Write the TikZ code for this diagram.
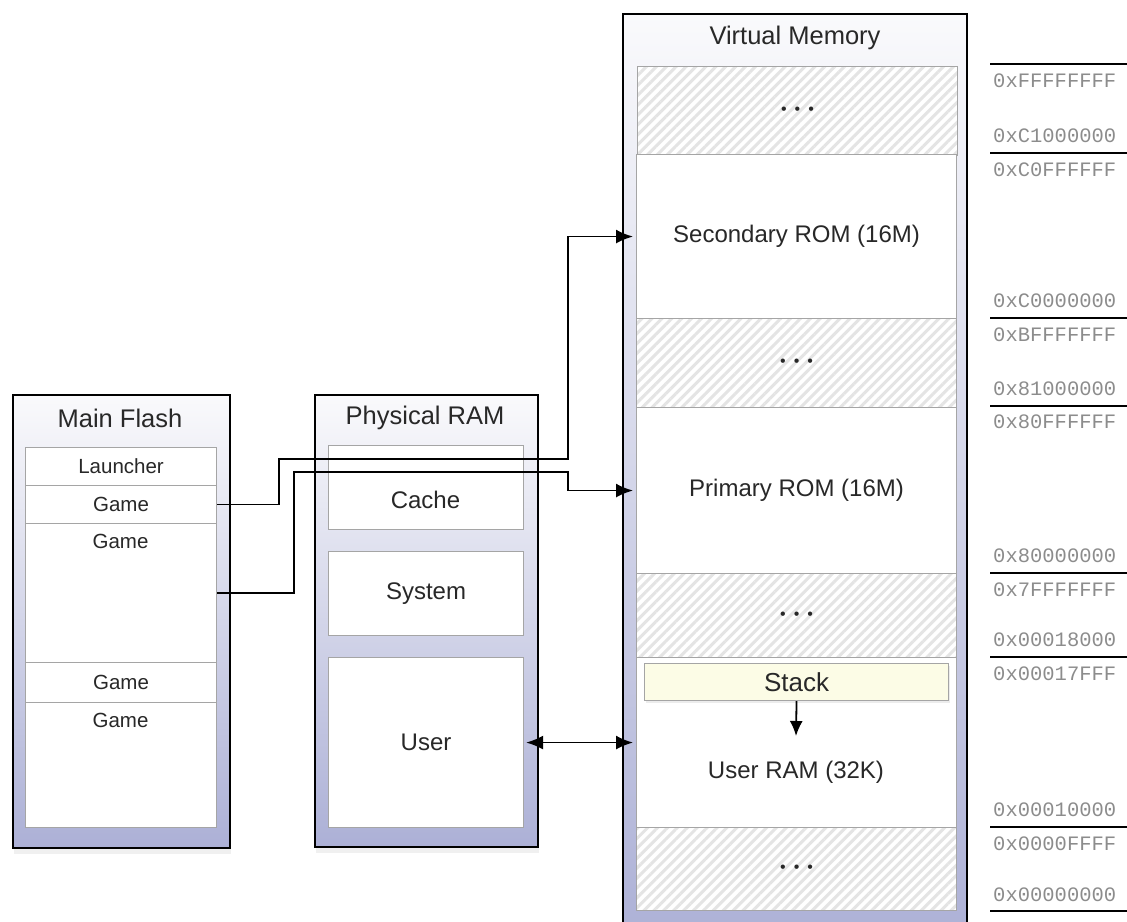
\documentclass[tikz,border=0pt]{standalone}
\usepackage{fontspec}
\setmainfont{Liberation Sans}
\newfontfamily\addrfont{Liberation Mono}
\usepackage{tikz}
\usetikzlibrary{arrows.meta,positioning,shadows,patterns.meta}
\usepackage{xcolor}
\definecolor{cText}{RGB}{40,40,40}
\definecolor{cEdge}{RGB}{165,165,165}
\definecolor{cTop}{RGB}{250,250,252}
\definecolor{cLav}{RGB}{172,176,214}
\definecolor{cHatch}{RGB}{228,228,228}
\definecolor{cStack}{RGB}{252,252,230}
\definecolor{cAddr}{RGB}{140,140,140}
\newcommand{\skipdots}{\textbullet\hspace{8pt}\textbullet\hspace{8pt}\textbullet}

\tikzset{
  outerbox/.style={draw=black, line width=1.6pt, top color=cTop, bottom color=cLav,
    anchor=north west, inner sep=0pt,
    drop shadow={opacity=0.12, shadow xshift=1pt, shadow yshift=-6pt}},
  panel/.style={draw=cEdge, line width=1.1pt, fill=white, anchor=north west,
    inner sep=0pt, text=cText, font=\fontsize{24}{26}\selectfont},
  flashrow/.style={panel, minimum width=191pt, font=\fontsize{20.5}{22}\selectfont},
  hatchrow/.style={panel, minimum width=320pt,
    preaction={fill=white},
    pattern={Lines[angle=45,distance=7pt,line width=3pt]}, pattern color=cHatch},
  title/.style={text=cText, font=\fontsize{25.5}{27}\selectfont},
  label/.style={text=cText, font=\fontsize{24}{26}\selectfont},
  addr/.style={anchor=west, inner sep=0pt, text=cAddr, font=\addrfont\fontsize{20.5}{22}\selectfont},
  addrline/.style={line width=1.4pt},
  link/.style={line width=1.8pt, >={Latex[length=17pt,width=14pt]}, ->},
}

\begin{document}
\begin{tikzpicture}[x=1pt, y=-1pt]
  \useasboundingbox (0,0) rectangle (1127,921);
  % main flash
  \node[outerbox, minimum width=217pt, minimum height=453pt] (flash) at (12,394) {};
  \node[title] at (120,418) {Main Flash};
  \node[flashrow, minimum height=38pt] (launcher) at (25,447) {Launcher};
  \node[flashrow, minimum height=38pt] (game1) at (25,485) {Game};
  \node[flashrow, minimum height=139pt] (game2) at (25,523) {};
  \node[flashrow, minimum height=40pt] (game3) at (25,662) {Game};
  \node[flashrow, minimum height=125pt] (game4) at (25,702) {};
  \node[text=cText, font=\fontsize{20.5}{22}\selectfont] at (120.5,541) {Game};
  \node[text=cText, font=\fontsize{20.5}{22}\selectfont] at (120.5,720) {Game};

  % physical ram
  \node[outerbox, minimum width=223pt, minimum height=452pt] (ram) at (314,394) {};
  \node[title] at (425,418) {Physical RAM};
  \node[panel, minimum width=195pt, minimum height=84pt] (cache) at (328,445) {};
  \node[label] at (425.5,500) {Cache};
  \node[panel, minimum width=195pt, minimum height=84pt] (system) at (328,551) {System};
  \node[panel, minimum width=195pt, minimum height=170pt] (user) at (328,657) {User};

  % virtual memory
  \node[outerbox, minimum width=344pt, minimum height=940pt] (vm) at (622,13) {};
  \node[title] at (795,38) {Virtual Memory};
  \node[hatchrow, minimum height=89pt] (hatchA) at (636,65) {\fontsize{16}{16}\selectfont\skipdots};
  \node[panel, minimum width=320pt, minimum height=164pt] (secrom) at (636,154) {Secondary ROM (16M)};
  \node[hatchrow, minimum height=89pt] (hatchB) at (636,318) {\fontsize{16}{16}\selectfont\skipdots};
  \node[panel, minimum width=320pt, minimum height=166pt] (primrom) at (636,407) {Primary ROM (16M)};
  \node[hatchrow, minimum height=84pt] (hatchC) at (636,573) {\fontsize{16}{16}\selectfont\skipdots};
  \node[panel, minimum width=320pt, minimum height=170pt] (userram) at (636,657) {};
  \node[label] at (796,772) {User RAM (32K)};
  \node[hatchrow, minimum height=83pt] (hatchD) at (636,827) {\fontsize{16}{16}\selectfont\skipdots};
  \node[panel, fill=cStack, minimum width=304pt, minimum height=37pt,
    font=\fontsize{26}{28}\selectfont,
    drop shadow={opacity=0.15, shadow xshift=1pt, shadow yshift=-2pt}] (stack) at (644,663) {Stack};
  \coordinate (stackend) at (796,736);

  % address column
  \foreach \y in {64,153,318,406,573,657,827,911}
    \draw[addrline] (990,\y) -- (1127,\y);
  \foreach \y/\a in {81/0xFFFFFFFF, 136/0xC1000000, 170/0xC0FFFFFF, 301/0xC0000000,
                     335/0xBFFFFFFF, 389/0x81000000, 422/0x80FFFFFF, 556/0x80000000,
                     590/0x7FFFFFFF, 640/0x00018000, 674/0x00017FFF, 810/0x00010000,
                     844/0x0000FFFF, 895/0x00000000}
    \node[addr] at (993,\y) {\a};

  % mappings
  \draw[link, shorten >=3pt] (game1.east) -- ++(62,0) |- (568,459) |- (secrom.west);
  \draw[link, shorten >=3pt] (game2.east) -- ++(77,0) |- (568,472) |- (primrom.west);
  \draw[link, <->, shorten >=3pt, shorten <=2pt] (user.east) -- (userram.west);
  \draw[link, >={Latex[length=15pt,width=13pt]}] (stack.south) -- (stackend);
\end{tikzpicture}
\end{document}
